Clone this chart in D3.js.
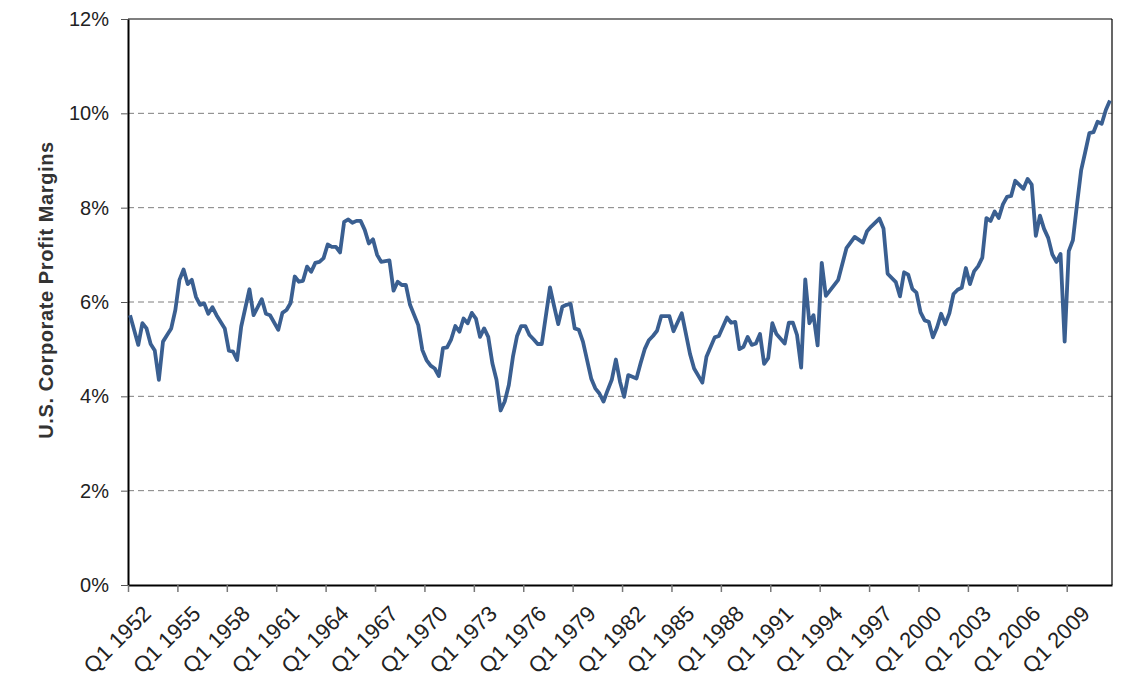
<!DOCTYPE html>
<html>
<head>
<meta charset="utf-8">
<script src="https://cdn.jsdelivr.net/npm/d3@7"></script>
<style>
  html, body { margin: 0; padding: 0; background: #fff; }
  svg { display: block; font-family: "Liberation Sans", Arial, sans-serif; }
</style>
</head>
<body>
<svg id="chart" width="1145" height="679"></svg>
<script>
// ---- Data ----
const quarters = [
  "1952Q1","1952Q3","1952Q4","1953Q1","1953Q2","1953Q3","1953Q4","1954Q1","1954Q2","1954Q3","1954Q4",
  "1955Q1","1955Q2","1955Q3","1955Q4","1956Q1","1956Q2","1956Q3","1956Q4","1957Q1","1957Q2","1957Q4",
  "1958Q1","1958Q2","1958Q3","1958Q4","1959Q2","1959Q3","1960Q1","1960Q2","1960Q3","1961Q1","1961Q2",
  "1961Q3","1961Q4","1962Q1","1962Q2","1962Q3","1962Q4","1963Q1","1963Q2","1963Q3","1963Q4","1964Q1",
  "1964Q2","1964Q3","1964Q4","1965Q1","1965Q2","1965Q3","1965Q4","1966Q1","1966Q2","1966Q3","1966Q4",
  "1967Q1","1967Q2","1967Q4","1968Q1","1968Q2","1968Q3","1968Q4","1969Q1","1969Q3","1969Q4","1970Q1",
  "1970Q2","1970Q3","1970Q4","1971Q1","1971Q2","1971Q3","1971Q4","1972Q1","1972Q2","1972Q3","1972Q4",
  "1973Q1","1973Q2","1973Q3","1973Q4","1974Q1","1974Q2","1974Q3","1974Q4","1975Q1","1975Q2","1975Q3",
  "1975Q4","1976Q1","1976Q2","1976Q3","1976Q4","1977Q1","1977Q3","1977Q4","1978Q1","1978Q2","1978Q3",
  "1978Q4","1979Q1","1979Q2","1979Q3","1980Q1","1980Q2","1980Q3","1980Q4","1981Q1","1981Q2","1981Q3",
  "1981Q4","1982Q1","1982Q2","1982Q4","1983Q1","1983Q2","1983Q3","1983Q4","1984Q1","1984Q2","1984Q4",
  "1985Q1","1985Q3","1986Q1","1986Q2","1986Q4","1987Q1","1987Q3","1987Q4","1988Q2","1988Q3","1988Q4",
  "1989Q1","1989Q2","1989Q3","1989Q4","1990Q1","1990Q2","1990Q3","1990Q4","1991Q1","1991Q2","1991Q4",
  "1992Q1","1992Q2","1992Q3","1992Q4","1993Q1","1993Q2","1993Q3","1993Q4","1994Q1","1994Q2","1995Q1",
  "1995Q3","1996Q1","1996Q3","1996Q4","1997Q1","1997Q3","1997Q4","1998Q1","1998Q3","1998Q4","1999Q1",
  "1999Q2","1999Q3","1999Q4","2000Q1","2000Q2","2000Q3","2000Q4","2001Q1","2001Q2","2001Q3","2001Q4",
  "2002Q1","2002Q2","2002Q3","2002Q4","2003Q1","2003Q2","2003Q3","2003Q4","2004Q1","2004Q2","2004Q3",
  "2004Q4","2005Q1","2005Q2","2005Q3","2005Q4","2006Q2","2006Q3","2006Q4","2007Q1","2007Q2","2007Q3",
  "2007Q4","2008Q1","2008Q2","2008Q3","2008Q4","2009Q1","2009Q2","2009Q3","2009Q4","2010Q1","2010Q2",
  "2010Q3","2010Q4","2011Q1","2011Q2","2011Q3"
];
const margins = [
  5.72,5.09,5.55,5.44,5.11,4.97,4.35,5.16,5.30,5.44,5.83,
  6.47,6.69,6.38,6.47,6.11,5.94,5.97,5.75,5.89,5.72,5.44,
  4.97,4.95,4.77,5.48,6.27,5.72,6.06,5.75,5.72,5.41,5.77,
  5.83,5.98,6.54,6.43,6.45,6.75,6.64,6.83,6.85,6.93,7.22,
  7.17,7.17,7.05,7.70,7.75,7.68,7.72,7.72,7.53,7.24,7.33,
  7.00,6.85,6.88,6.24,6.43,6.36,6.36,5.94,5.51,4.98,4.77,
  4.65,4.59,4.43,5.02,5.04,5.21,5.49,5.37,5.65,5.55,5.77,
  5.65,5.26,5.44,5.26,4.70,4.35,3.70,3.89,4.24,4.84,5.28,
  5.49,5.49,5.30,5.21,5.11,5.11,6.31,5.91,5.53,5.90,5.94,
  5.96,5.44,5.41,5.16,4.38,4.17,4.06,3.89,4.13,4.35,4.78,
  4.31,3.99,4.45,4.38,4.70,5.00,5.19,5.28,5.39,5.70,5.70,
  5.38,5.76,4.90,4.59,4.29,4.84,5.25,5.28,5.67,5.56,5.58,
  5.00,5.05,5.26,5.09,5.12,5.32,4.69,4.81,5.55,5.32,5.12,
  5.56,5.56,5.30,4.61,6.48,5.55,5.72,5.08,6.83,6.13,6.47,
  7.14,7.38,7.26,7.50,7.60,7.77,7.56,6.60,6.42,6.12,6.63,
  6.58,6.28,6.20,5.78,5.61,5.58,5.25,5.46,5.75,5.53,5.76,
  6.17,6.26,6.30,6.72,6.38,6.65,6.76,6.94,7.78,7.72,7.92,
  7.78,8.07,8.23,8.25,8.57,8.40,8.61,8.49,7.40,7.83,7.55,
  7.36,7.01,6.85,7.02,5.16,7.08,7.31,8.07,8.79,9.18,9.58,
  9.60,9.82,9.78,10.07,10.27
];
const xTickLabels = ["Q1 1952","Q1 1955","Q1 1958","Q1 1961","Q1 1964","Q1 1967","Q1 1970",
  "Q1 1973","Q1 1976","Q1 1979","Q1 1982","Q1 1985","Q1 1988","Q1 1991","Q1 1994","Q1 1997",
  "Q1 2000","Q1 2003","Q1 2006","Q1 2009"];
const yTicks = [0, 2, 4, 6, 8, 10, 12];
const firstQuarter = "1952Q1";
const lastQuarter = "2011Q3";
const yTitle = "U.S. Corporate Profit Margins";

// ---- Helpers ----
function qIndex(label) {
  const m = label.match(/(\d{4})\s*Q(\d)|Q(\d)\s*(\d{4})/);
  const year = +(m[1] || m[4]);
  const q = +(m[2] || m[3]);
  const m0 = firstQuarter.match(/(\d{4})Q(\d)/);
  return (year - +m0[1]) * 4 + (q - +m0[2]);
}
const nQuarters = qIndex(lastQuarter) + 1;
const data = quarters.map((q, i) => ({ idx: qIndex(q), v: margins[i] }));

// ---- Layout ----
const L = 128, R = 1112, T = 19, B = 585;
const svg = d3.select("#chart");

const x = d3.scaleLinear().domain([0, nQuarters]).range([L, R]);
const y = d3.scaleLinear().domain([0, 12]).range([B, T]);

// Gridlines (dashed)
svg.append("g")
  .selectAll("line")
  .data(yTicks.filter(d => d > 0 && d < 12))
  .join("line")
  .attr("x1", L).attr("x2", R)
  .attr("y1", d => y(d)).attr("y2", d => y(d))
  .attr("stroke", "#7f7f7f")
  .attr("stroke-width", 1)
  .attr("stroke-dasharray", "6,4");

// Frame top/right
svg.append("line").attr("x1", L).attr("x2", R).attr("y1", T).attr("y2", T)
  .attr("stroke", "#000").attr("stroke-width", 1.2);
svg.append("line").attr("x1", R).attr("x2", R).attr("y1", T).attr("y2", B)
  .attr("stroke", "#000").attr("stroke-width", 1.2);

// Y axis
const yAxis = d3.axisLeft(y).tickValues(yTicks).tickFormat(d => d + "%").tickSize(7).tickSizeOuter(0);
const gy = svg.append("g").attr("transform", `translate(${L},0)`).call(yAxis);
gy.select(".domain").attr("stroke", "#000").attr("stroke-width", 2);
gy.selectAll(".tick line").attr("stroke", "#555").attr("stroke-width", 1);
gy.selectAll(".tick text").attr("font-size", 20).attr("fill", "#222")
  .attr("font-family", "'Liberation Sans', Arial, sans-serif").attr("x", -19);

// X axis
const xTickIdx = xTickLabels.map(qIndex);
const xAxis = d3.axisBottom(x).tickValues(xTickIdx)
  .tickFormat((d, i) => xTickLabels[i]).tickSize(7).tickSizeOuter(0);
const gx = svg.append("g").attr("transform", `translate(0,${B})`).call(xAxis);
gx.select(".domain").attr("stroke", "#000").attr("stroke-width", 2);
gx.selectAll(".tick line").attr("stroke", "#777").attr("stroke-width", 1.5);
gx.selectAll(".tick text")
  .attr("font-size", 22).attr("fill", "#222")
  .attr("font-family", "'Liberation Sans', Arial, sans-serif")
  .attr("text-anchor", "end")
  .attr("dy", null)
  .attr("y", 0)
  .attr("transform", "translate(24,30) rotate(-45)");

// Y title
svg.append("text")
  .attr("transform", `translate(53,290) rotate(-90)`)
  .attr("text-anchor", "middle")
  .attr("font-size", 20).attr("font-weight", "bold").attr("fill", "#333")
  .attr("letter-spacing", 0.6)
  .text(yTitle);

// Line
const line = d3.line().x(d => x(d.idx + 0.5)).y(d => y(d.v));
svg.append("path").datum(data)
  .attr("fill", "none")
  .attr("stroke", "#3a5f91")
  .attr("stroke-width", 3.8)
  .attr("stroke-linejoin", "round")
  .attr("d", line);
</script>
</body>
</html>
